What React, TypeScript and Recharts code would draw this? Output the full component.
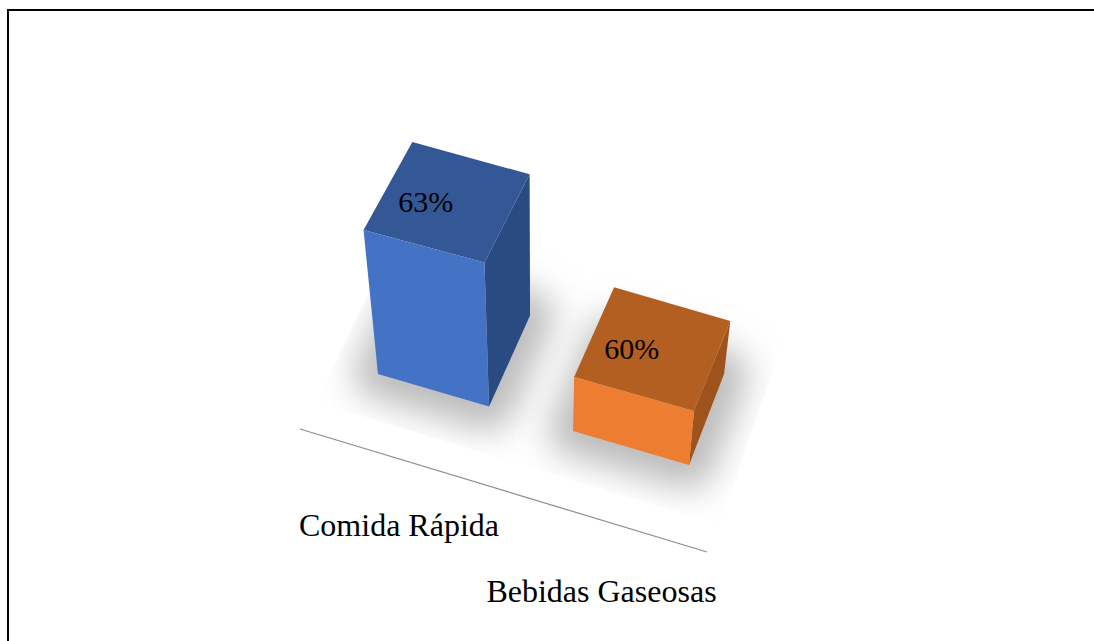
import React from 'react';
import { BarChart, Bar, XAxis, YAxis, LabelList, ReferenceLine } from 'recharts';

const categories = ['Comida Rápida', 'Bebidas Gaseosas'];
const values = [63, 60];
const frontColors = ['#4472C4', '#ED7D31'];
const topColors = ['#345796', '#B45F22'];
const sideColors = ['#2A4A82', '#9E531C'];

const data = categories.map((name, i) => ({ name, value: values[i] }));

// flat chart coordinates -> tilted floor view
const project = (fx: number, h: number, d: number) => {
  const sx = fx + 0.00011 * (fx - 532) * (fx - 532) - 1.4;
  const sy = 374 + (sx - 378) * 0.2925;
  const x = sx + (sx - 540) * 0.00062 * h;
  const depth = (41 - (sx - 489) * 0.03) * (1 + h * 0.0007);
  return { x: x + depth * d, y: sy - h - (91 - h * 0.02) * d };
};

const pts = (list: { x: number; y: number }[]) => list.map((p) => `${p.x},${p.y}`).join(' ');

// only the left and right sides of this clip are close enough to show
const floor = '316,402 720,525 800,290 400,230';

const ShadowShape = (props: any) => {
  const { x, width, index } = props;
  const a = project(x, 0, 0);
  const b = project(x + width, 0, 0);
  const c = project(x + width, 0, 1);
  const e = project(x, 0, 1);
  return (
    <g>
      {index === 0 && (
        <defs>
          <filter id="soft" filterUnits="userSpaceOnUse" x="200" y="150" width="700" height="450">
            <feGaussianBlur stdDeviation="17" />
          </filter>
          <clipPath id="floorClip">
            <polygon points={floor} />
          </clipPath>
        </defs>
      )}
      <g clipPath="url(#floorClip)">
        <polygon
          points={pts([a, b, c, e])}
          fill="#bcbcbc"
          stroke="#bcbcbc"
          strokeWidth={48}
          strokeLinejoin="round"
          filter="url(#soft)"
        />
      </g>
    </g>
  );
};

const BoxShape = (props: any) => {
  const { x, width, height, index } = props;
  const l = x;
  const r = x + width;
  const fl = project(l, 0, 0);
  const fr = project(r, 0, 0);
  const tl = project(l, height, 0);
  const tr = project(r, height, 0);
  const bl = project(l, height, 1);
  const br = project(r, height, 1);
  const sb = project(r, 0, 1);
  return (
    <g>
      <polygon points={pts([fr, tr, br, sb])} fill={sideColors[index]} />
      <polygon points={pts([tl, tr, br, bl])} fill={topColors[index]} />
      <polygon points={pts([fl, fr, tr, tl])} fill={frontColors[index]} />
    </g>
  );
};

const ValueLabel = (props: any) => {
  const { x, width, height, value } = props;
  const centre = project(x + width / 2, height, 0);
  const corner = project(x, height, 0);
  return (
    <text
      x={centre.x + 2 - (x - 376.75) * 0.02}
      y={corner.y - 18}
      textAnchor="middle"
      fontFamily="Liberation Serif"
      fontSize={30}
      fill="#000"
    >
      {`${value}%`}
    </text>
  );
};

const CategoryTick = (props: any) => {
  const { x, payload } = props;
  return (
    <text
      x={x - 34.5 + (x - 433.5) * 0.0253}
      y={536 + (x - 433.5) * 0.334}
      textAnchor="middle"
      fontFamily="Liberation Serif"
      fontSize={32}
      fill="#000"
    >
      {payload.value}
    </text>
  );
};

const FloorLine = (props: any) => {
  const { x1, x2 } = props;
  return <line x1={x1 - 34.75} y1={429} x2={x2 - 22.75} y2={552} stroke="#8c8c8c" strokeWidth={1.2} />;
};

export default function App() {
  return (
    <div style={{ position: 'absolute', left: 0, top: 0, width: 1094, height: 641, background: '#fff', overflow: 'hidden' }}>
      <div style={{ position: 'absolute', left: 7, top: 9, right: 0, bottom: 0, borderTop: '2px solid #000', borderLeft: '2px solid #000' }} />
      <div style={{ position: 'absolute', left: 0, top: 0 }}>
        <BarChart
          width={1094}
          height={641}
          data={data}
          margin={{ top: 100, right: 364.25, bottom: 337, left: 334.75 }}
          barSize={113.5}
          barGap={-113.5}
        >
          <XAxis dataKey="name" height={30} axisLine={false} tickLine={false} tick={<CategoryTick />} interval={0} />
          <YAxis hide domain={[58.2, 64]} />
          <Bar dataKey="value" isAnimationActive={false} shape={<ShadowShape />} />
          <Bar dataKey="value" isAnimationActive={false} shape={<BoxShape />}>
            <LabelList dataKey="value" content={<ValueLabel />} />
          </Bar>
          <ReferenceLine y={58.2} shape={<FloorLine />} />
        </BarChart>
      </div>
    </div>
  );
}
